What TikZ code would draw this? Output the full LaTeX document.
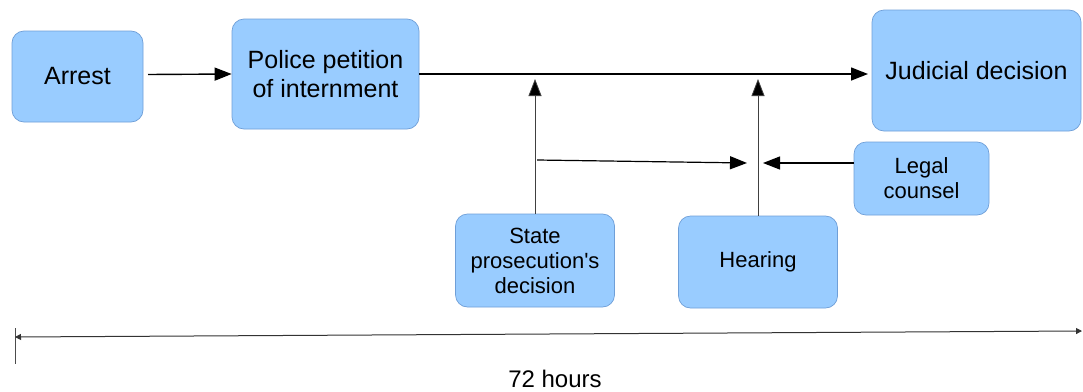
\documentclass[tikz,border=0pt]{standalone}
\usepackage{fontspec}
\setmainfont{Liberation Sans}
\usetikzlibrary{arrows.meta}
\definecolor{boxfill}{HTML}{99CCFF}
\definecolor{boxline}{HTML}{6F9FD8}
\newcommand{\sq}{{\XeTeXglyph\XeTeXcharglyph"27\relax}}
\begin{document}
\begin{tikzpicture}[x=1pt,y=-1pt,
  box/.style={draw=boxline,fill=boxfill,line width=0.7pt,rounded corners=12pt,
    inner sep=0pt,align=center,text=black},
  bigfont/.style={font=\fontsize{25}{29}\selectfont},
  smallfont/.style={font=\fontsize{22}{25}\selectfont},
  bigarrow/.style={line width=1.4pt,-{Triangle[length=17pt,width=13pt]}},
  uparrow/.style={line width=0.8pt,draw=black!75,-{Triangle[length=17pt,width=13pt,fill=black]}},
  timeline/.style={line width=1pt,draw=black!80,{Triangle[length=6pt,width=6pt]}-{Triangle[length=6pt,width=6pt]}}
]
\useasboundingbox (0,0) rectangle (1083,391);
\fill[white] (0,0) rectangle (1083,391);

\node[box,bigfont,minimum width=131pt,minimum height=91pt] (arrest) at (77.5,76.5) {Arrest};
\node[box,bigfont,minimum width=187pt,minimum height=110pt] (police) at (325.5,74) {Police petition\\of internment};
\node[box,bigfont,minimum width=209pt,minimum height=121pt] (judicial) at (976.5,70.5) {Judicial decision};
\node[box,smallfont,minimum width=159pt,minimum height=93pt] (state) at (535,260.5) {State\\prosecution\sq s\\decision};
\node[box,smallfont,minimum width=159pt,minimum height=92pt] (hearing) at (758,262) {Hearing};
\node[box,smallfont,minimum width=135pt,minimum height=73pt] (legal) at (921.5,178.5) {Legal\\counsel};

\coordinate (a1) at (148,74.5);
\coordinate (p1) at (419,74);
\coordinate (j1) at (868,74);
\coordinate (t1) at (535,79);
\coordinate (t2) at (758,79);
\coordinate (s1) at (537,160);
\coordinate (s2) at (747,163);
\coordinate (l2) at (763,163);
\coordinate (tl) at (15,337);
\coordinate (tr) at (1082,331);
\coordinate (tk1) at (15,328);
\coordinate (tk2) at (15,364);

\draw[bigarrow] (a1) -- (police.west);
\draw[bigarrow] (p1) -- (j1);
\draw[uparrow] (state.north) -- (t1);
\draw[uparrow] (hearing.north) -- (t2);
\draw[bigarrow,line width=1.2pt] (s1) -- (s2);
\draw[bigarrow,line width=1.2pt] (legal.west |- l2) -- (l2);

\draw[line width=0.6pt,black!70] (tk1) -- (tk2);
\draw[timeline] (tl) -- (tr);
\node[font=\fontsize{24}{28}\selectfont] (hours) at (555,379) {72 hours};
\end{tikzpicture}
\end{document}
